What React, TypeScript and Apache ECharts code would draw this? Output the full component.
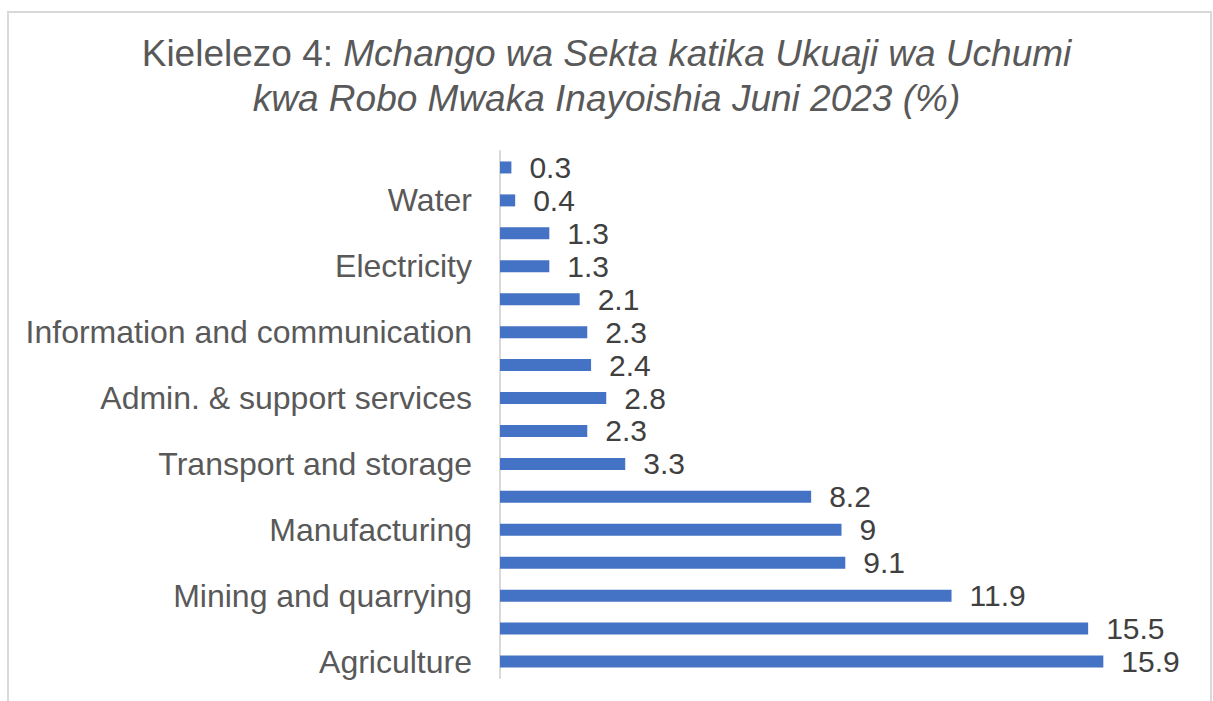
import React, { useEffect, useRef } from "react";
import * as echarts from "echarts";

const categories = [
  "Agriculture",
  "Construction",
  "Mining and quarrying",
  "Trade and repair",
  "Manufacturing",
  "Financial and insurance",
  "Transport and storage",
  "Accommodation and food services",
  "Admin. & support services",
  "Public administration",
  "Information and communication",
  "Real estate",
  "Electricity",
  "Professional and technical",
  "Water",
  "Other services",
];
const values = [15.9, 15.5, 11.9, 9.1, 9, 8.2, 3.3, 2.3, 2.8, 2.4, 2.3, 2.1, 1.3, 1.3, 0.4, 0.3];

const FONT = "'Liberation Sans', Arial, sans-serif";

export default function App() {
  const ref = useRef<HTMLDivElement>(null);
  useEffect(() => {
    if (!ref.current) return;
    const chart = echarts.init(ref.current, null, { renderer: "svg" });
    chart.setOption({
      animation: false,
      backgroundColor: "#ffffff",
      title: {
        text: "{n|Kielelezo 4: }{i|Mchango wa Sekta katika Ukuaji wa Uchumi}\n{i|kwa Robo Mwaka Inayoishia Juni 2023 (%)}",
        left: "center",
        top: 31,
        padding: 0,
        textStyle: {
          fontFamily: FONT,
          fontSize: 37,
          color: "#595959",
          fontWeight: "normal",
          lineHeight: 45,
          rich: {
            n: { fontFamily: FONT, fontSize: 37, color: "#595959", lineHeight: 45 },
            i: { fontFamily: FONT, fontSize: 37, color: "#595959", fontStyle: "italic", lineHeight: 45 },
          },
        },
      },
      graphic: [
        {
          type: "rect",
          shape: { x: 8, y: 12, width: 1203, height: 720 },
          style: { fill: "none", stroke: "#d9d9d9", lineWidth: 2 },
          silent: true,
        },
      ],
      grid: { left: 500, right: 30, top: 151, bottom: 23 },
      xAxis: {
        type: "value",
        min: 0,
        max: 18,
        show: false,
      },
      yAxis: {
        type: "category",
        data: categories,
        axisLine: { show: true, lineStyle: { color: "#d9d9d9", width: 2 } },
        axisTick: { show: false },
        axisLabel: {
          interval: 1,
          margin: 28,
          fontFamily: FONT,
          fontSize: 32,
          color: "#595959",
        },
      },
      series: [
        {
          type: "bar",
          data: values,
          barWidth: 12,
          itemStyle: { color: "#4472c4" },
          label: {
            show: true,
            position: "right",
            distance: 18,
            fontFamily: FONT,
            fontSize: 30,
            color: "#404040",
          },
        },
      ],
    });
    return () => chart.dispose();
  }, []);
  return (
    <div
      ref={ref}
      style={{ position: "fixed", left: 0, top: 0, width: 1213, height: 701 }}
    />
  );
}
